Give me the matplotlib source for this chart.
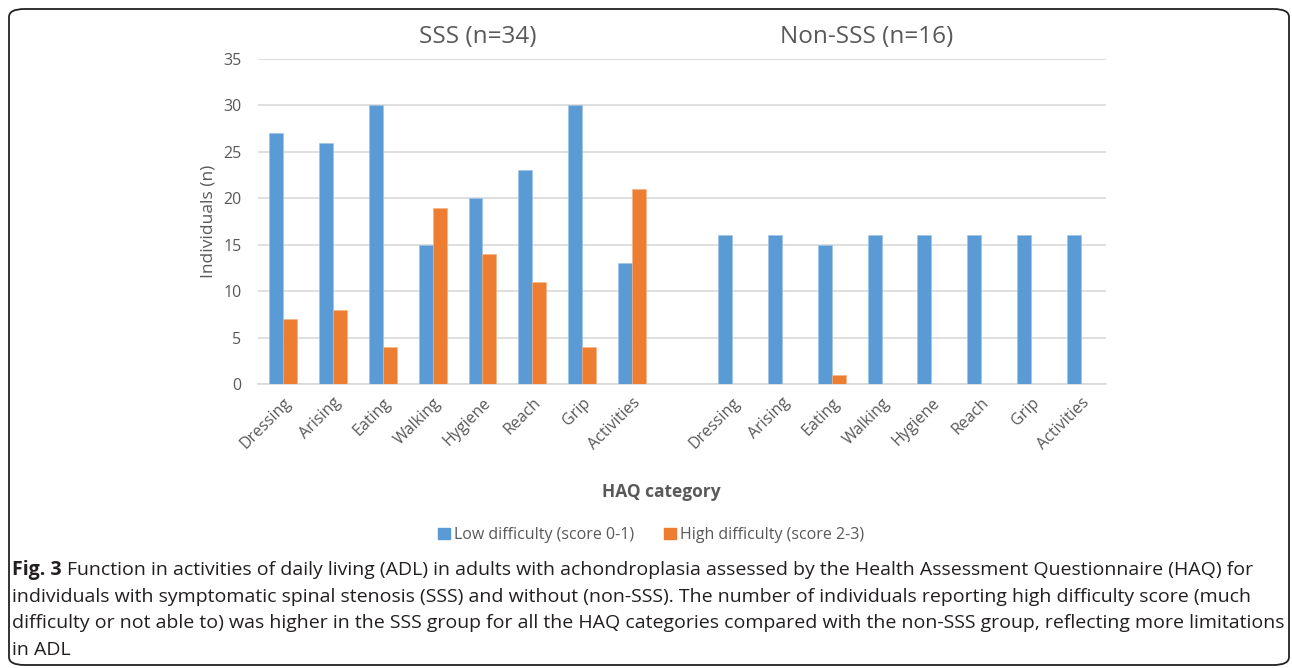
import matplotlib
matplotlib.use("Agg")
import matplotlib.pyplot as plt
from matplotlib.patches import FancyBboxPatch, Rectangle
import numpy as np

plt.rcParams['font.family'] = ['Open Sans', 'DejaVu Sans']

categories = ["Dressing", "Arising", "Eating", "Walking", "Hygiene", "Reach", "Grip", "Activities"]
sss_low = [27, 26, 30, 15, 20, 23, 30, 13]
sss_high = [7, 8, 4, 19, 14, 11, 4, 21]
non_low = [16, 16, 15, 16, 16, 16, 16, 16]
non_high = [0, 0, 1, 0, 0, 0, 0, 0]
group_titles = ["SSS (n=34)", "Non-SSS (n=16)"]
series_names = ["Low difficulty (score 0-1)", "High difficulty (score 2-3)"]
y_ticks = [0, 5, 10, 15, 20, 25, 30, 35]

BLUE = "#5B9BD5"
ORANGE = "#ED7D31"
GREY = "#595959"
GRID = "#D9D9D9"

labels = categories + [""] + categories
low = sss_low + [0] + non_low
high = sss_high + [0] + non_high
x = np.arange(len(labels))

fig = plt.figure(figsize=(12.92, 6.68), dpi=100)

# frame
frame = FancyBboxPatch((9 / 1292, 3 / 668), 1280 / 1292, 656 / 668,
                       boxstyle="round,pad=0,rounding_size=0.012",
                       transform=fig.transFigure, fill=False,
                       edgecolor="#222222", linewidth=1.3)
fig.patches.append(frame)

ax = fig.add_axes([258 / 1292, 284 / 668, 848 / 1292, 325 / 668])
w = 0.28
ax.bar(x - w / 2, low, width=w, color=BLUE, edgecolor="#9DC3E6", linewidth=0.4, zorder=3)
ax.bar(x + w / 2, high, width=w, color=ORANGE, edgecolor="#F4B183", linewidth=0.4, zorder=3)

ax.set_xlim(-0.5, len(labels) - 0.5)
ax.set_ylim(0, 35)
ax.set_yticks(y_ticks)
ax.set_yticklabels([str(t) for t in y_ticks], fontsize=11.5, color=GREY)
ax.yaxis.grid(True, color=GRID, linewidth=1.2, zorder=0)
ax.set_axisbelow(True)
for s in ["top", "right", "left"]:
    ax.spines[s].set_visible(False)
ax.spines["bottom"].set_color(GRID)
ax.spines["bottom"].set_linewidth(1.2)
ax.tick_params(axis="y", length=0, pad=12)
ax.tick_params(axis="x", length=0, pad=8)
ax.set_xticks(x)
ax.set_xticklabels(labels, rotation=45, ha="right", rotation_mode="anchor",
                   fontsize=11.5, color=GREY)
ax.set_ylabel("Individuals (n)", fontsize=12.5, color=GREY, labelpad=5)

fig.text(478 / 1292, 1 - 37 / 668, group_titles[0], ha="center", va="center",
         fontsize=17.5, color=GREY)
fig.text(867 / 1292, 1 - 37 / 668, group_titles[1], ha="center", va="center",
         fontsize=17.5, color=GREY)

fig.text(661 / 1292, 1 - 492 / 668, "HAQ category", ha="center", va="center",
         fontsize=12.5, fontweight="bold", color=GREY)

fig.legend([Rectangle((0, 0), 1, 1, color=BLUE), Rectangle((0, 0), 1, 1, color=ORANGE)],
           series_names, loc="center", bbox_to_anchor=(651 / 1292, 1 - 535 / 668),
           ncol=2, frameon=False, fontsize=11.5, handlelength=0.75, handleheight=0.75,
           handletextpad=0.25, columnspacing=1.9, labelcolor=GREY,
           borderpad=0, borderaxespad=0)

cap_color = "#231F20"
cap_size = 14
cap_lines = [
    "Function in activities of daily living (ADL) in adults with achondroplasia assessed by the Health Assessment Questionnaire (HAQ) for",
    "individuals with symptomatic spinal stenosis (SSS) and without (non-SSS). The number of individuals reporting high difficulty score (much",
    "difficulty or not able to) was higher in the SSS group for all the HAQ categories compared with the non-SSS group, reflecting more limitations",
    "in ADL",
]
ys = [570, 597, 623, 650]
t0 = fig.text(12 / 1292, 1 - ys[0] / 668, "Fig. 3", ha="left", va="center",
              fontsize=cap_size, fontweight="bold", color=cap_color)
fig.canvas.draw()
bb = t0.get_window_extent()
fig.text((bb.x1 + 5) / 1292, 1 - ys[0] / 668, cap_lines[0], ha="left", va="center",
         fontsize=cap_size, color=cap_color)
for line, yy in zip(cap_lines[1:], ys[1:]):
    fig.text(12 / 1292, 1 - yy / 668, line, ha="left", va="center",
             fontsize=cap_size, color=cap_color)

fig.savefig("out.png", dpi=100)
